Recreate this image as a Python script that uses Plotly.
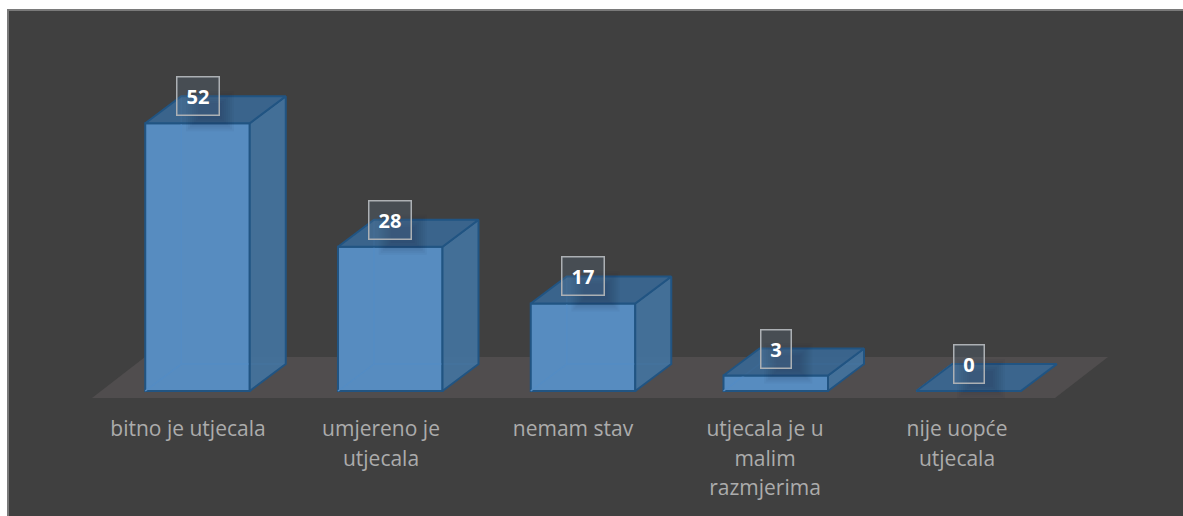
import plotly.graph_objects as go

# --- data ---
CATEGORY_LINES = [
    ["bitno je utjecala"],
    ["umjereno je", "utjecala"],
    ["nemam stav"],
    ["utjecala je u", "malim", "razmjerima"],
    ["nije uopće", "utjecala"],
]
VALUES = [52, 28, 17, 3, 0]

# --- layout constants (pixels) ---
W, H = 1183, 516
PL, PT, PR, PB = 8, 10, 1183, 405
X0_PX, X_STEP = 197.5, 192.75   # px of first category, px per category
Y0_PX, Y_STEP = 391.0, 5.15     # px of value 0, px per unit
BAR_PX, DX_PX, DY_PX = 104.5, 36.0, 27.0
LABEL_SHIFT_PX = [-9.5, -9.25, -10, -10.75, -11.5]

to_x = lambda px: (px - X0_PX) / X_STEP
to_y = lambda px: (Y0_PX - px) / Y_STEP
half = BAR_PX / 2 / X_STEP
dx = DX_PX / X_STEP
dy = DY_PX / Y_STEP
idx = list(range(len(VALUES)))

EDGE = "rgb(33,84,130)"
fig = go.Figure()

# front faces
fig.add_trace(go.Bar(
    x=idx, y=VALUES, width=BAR_PX / X_STEP,
    marker=dict(color="rgba(88,142,196,0.97)", line=dict(color=EDGE, width=2)),
    hoverinfo="skip", showlegend=False,
))

def faces(fn):
    xs, ys = [], []
    for i, v in zip(idx, VALUES):
        for a, b in fn(i, v):
            xs.append(a)
            ys.append(b)
        xs.append(None)
        ys.append(None)
    return xs, ys

# hidden edges, seen through the translucent front face
hx, hy = faces(lambda i, v: [
    (i - half, 0), (i - half + dx, dy), (i - half + dx, v + dy),
    (i - half + dx, dy), (i + half + dx, dy),
])
fig.add_trace(go.Scatter(x=hx, y=hy, mode="lines", hoverinfo="skip", showlegend=False,
                         line=dict(color="rgb(84,140,196)", width=1.5)))
# side faces
sx, sy = faces(lambda i, v: [
    (i + half, 0), (i + half + dx, dy), (i + half + dx, v + dy), (i + half, v), (i + half, 0),
])
fig.add_trace(go.Scatter(x=sx, y=sy, mode="lines", fill="toself", hoverinfo="skip", showlegend=False,
                         fillcolor="rgba(68,113,155,0.96)", line=dict(color=EDGE, width=2)))
# top faces
tx, ty = faces(lambda i, v: [
    (i - half, v), (i + half, v), (i + half + dx, v + dy), (i - half + dx, v + dy), (i - half, v),
])
fig.add_trace(go.Scatter(x=tx, y=ty, mode="lines", fill="toself", hoverinfo="skip", showlegend=False,
                         fillcolor="rgba(58,102,144,0.96)", line=dict(color=EDGE, width=2)))

shapes = [
    dict(type="rect", xref="paper", yref="paper", layer="below",
         x0=0, x1=1.02, y0=-(H - PB + 5) / (PB - PT), y1=1,
         fillcolor="rgb(64,64,64)", line=dict(color="rgb(122,122,122)", width=2)),
    dict(type="path", xref="x", yref="y", layer="below", line=dict(width=0),
         fillcolor="rgb(80,77,78)",
         path=f"M {to_x(92)} {to_y(398)} L {to_x(1055)} {to_y(398)} "
              f"L {to_x(1108)} {to_y(357)} L {to_x(145)} {to_y(357)} Z"),
]
# soft shadow behind each value box
for i, v in zip(idx, VALUES):
    for grow in (0, 2, 4, 6, 8, 10, 12):
        shapes.append(dict(
            type="rect", layer="above", xref="x", yref="y",
            xsizemode="pixel", ysizemode="pixel", xanchor=i, yanchor=v,
            x0=-12 - grow + 12.5, x1=12 + grow + 12.5,
            y0=4 - grow, y1=20 + grow,
            fillcolor="rgba(30,35,45,0.04)", line=dict(width=0),
        ))

annotations = [
    dict(x=i, y=v, xref="x", yref="y", yshift=27, showarrow=False,
         text=f"<b>{v}</b>", width=41 if v >= 10 else 29, height=37,
         align="center", valign="middle",
         font=dict(family="Open Sans", size=20, color="white"),
         bgcolor="rgba(96,122,150,0.22)", bordercolor="rgb(172,176,180)", borderwidth=1.5, borderpad=0)
    for i, v in zip(idx, VALUES)
]

fig.update_layout(
    width=W, height=H, autosize=False,
    margin=dict(l=PL, r=W - PR, t=PT, b=H - PB, pad=0),
    paper_bgcolor="white", plot_bgcolor="rgba(0,0,0,0)",
    showlegend=False, shapes=shapes, annotations=annotations,
    xaxis=dict(
        range=[to_x(PL), to_x(PR)],
        tickmode="array",
        tickvals=[i + s / X_STEP for i, s in zip(idx, LABEL_SHIFT_PX)],
        ticktext=["<br>".join(f'<span style="font-size:21px">{t}</span>' for t in lines)
                  for lines in CATEGORY_LINES],
        tickfont=dict(family="Open Sans", size=22.7, color="rgb(172,172,172)"),
        ticks="outside", ticklen=3, tickcolor="rgba(0,0,0,0)", tickangle=0,
        showgrid=False, zeroline=False, showline=False,
    ),
    yaxis=dict(range=[to_y(PB), to_y(PT)], visible=False, showgrid=False, zeroline=False),
)

fig.write_html("out.html", config=dict(displayModeBar=False),
               post_script="document.body.style.margin='0';document.body.style.overflow='hidden';")
